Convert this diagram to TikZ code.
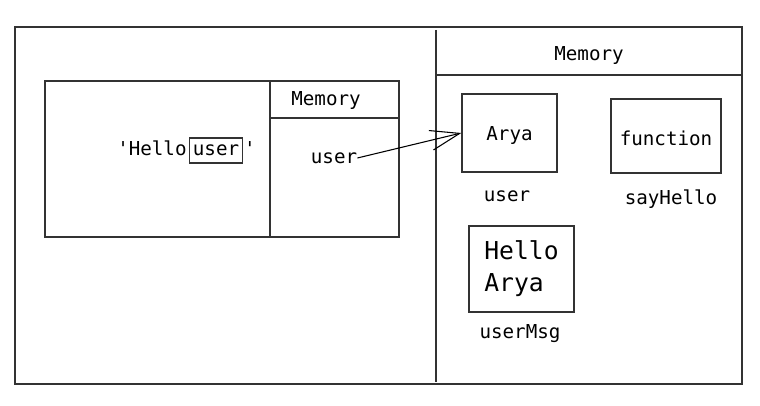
\documentclass[tikz,border=0pt]{standalone}
\usepackage{fontspec}
\setmonofont{DejaVu Sans Mono}
\usetikzlibrary{arrows.meta,positioning}
\definecolor{myline}{RGB}{51,51,51}

\tikzset{
  frame/.style={draw=myline, line width=1.1pt},
  cell/.style={draw=myline, line width=1.1pt, inner sep=0pt},
  txt/.style={font=\ttfamily\fontsize{14.4}{17}\selectfont, inner sep=0pt, yshift=-1.5pt},
  bigtxt/.style={font=\ttfamily\fontsize{18.5}{24}\selectfont, inner sep=0pt, align=left}
}

\begin{document}
\begin{tikzpicture}[x=0.75pt,y=-0.75pt]
\useasboundingbox (0,0) rectangle (760,406);

% outer frame and split
\draw[frame] (15,27) rectangle (742,384);
\draw[frame] (436,30) -- (436,382);
\draw[frame] (436,75) -- (742,75);
\node[txt] (memR) at (589,53) {Memory};

% left box with its own memory
\draw[frame] (45,81) rectangle (399,237);
\draw[frame] (270,81) -- (270,237);
\draw[frame] (270,118) -- (399,118);
\node[txt] (memL) at (326,98) {Memory};
\node[txt, yshift=1.5pt, draw=myline, line width=1pt, inner xsep=2.5pt, minimum height=25*0.75pt] (ubox) at (216,150.5) {user};
\node[txt, yshift=1.5pt, anchor=base east] (hello) at ([xshift=-1.5pt]ubox.base west) {'Hello};
\node[txt, yshift=1.5pt, anchor=base west] (quote) at ([xshift=0.5pt]ubox.base east) {'};
\node[txt] (varuser) at (334,156) {user};

% right memory boxes
\node[cell, minimum width=95*0.75pt, minimum height=78*0.75pt] (arya) at (509.5,133) {};
\node[txt] at (arya) {Arya};
\node[txt] (lbluser) at (507,194) {user};

\node[cell, minimum width=110*0.75pt, minimum height=74*0.75pt] (func) at (666,136) {};
\node[txt] at (func) {function};
\node[txt] (lblsay) at (671,197) {sayHello};

\node[cell, minimum width=105*0.75pt, minimum height=86*0.75pt] (msg) at (521.5,269) {};
\node[bigtxt] at (msg) {Hello\\Arya};
\node[txt] (lblmsg) at (520,332) {userMsg};

% reference arrow
\draw[line width=0.8pt, -{Straight Barb[length=22pt,width=15pt,line width=0.8pt]}] (varuser.east) -- (arya.west);

\end{tikzpicture}
\end{document}
